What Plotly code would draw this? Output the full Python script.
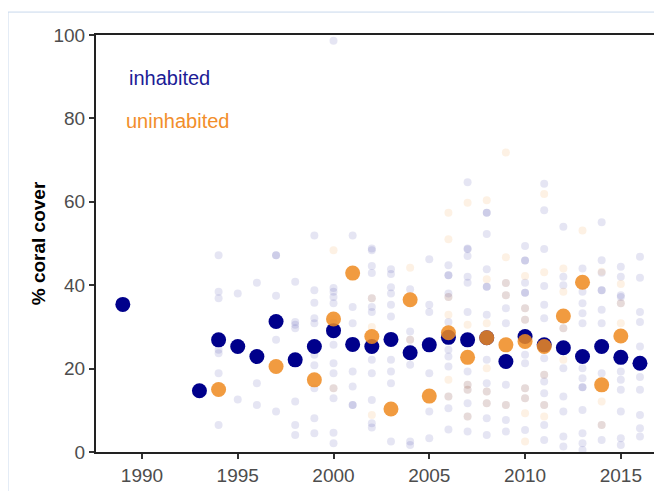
import plotly.graph_objects as go

# Yearly means
inh_years = [1989, 1993, 1994, 1995, 1996, 1997, 1998, 1999, 2000, 2001, 2002, 2003, 2004, 2005,
             2006, 2007, 2008, 2009, 2010, 2011, 2012, 2013, 2014, 2015, 2016]
inh_means = [35.4, 14.7, 26.9, 25.3, 22.9, 31.3, 22.1, 25.3, 29.1, 25.8, 25.3, 27.0, 23.8, 25.7,
             27.5, 26.9, 27.4, 21.7, 27.7, 25.7, 25.0, 22.9, 25.3, 22.7, 21.3]

uni_years = [1994, 1997, 1999, 2000, 2001, 2002, 2003, 2004, 2005, 2006, 2007, 2008, 2009, 2010,
             2011, 2012, 2013, 2014, 2015]
uni_means = [15.0, 20.5, 17.3, 31.9, 42.9, 27.7, 10.3, 36.5, 13.4, 28.6, 22.7, 27.4, 25.7, 26.5,
             25.3, 32.6, 40.7, 16.1, 27.8]

# Individual sites (year, % cover)
inh_sites = [
    (1994, 47.2), (1994, 38.4), (1994, 36.9), (1994, 24.5), (1994, 23.7), (1994, 18.9), (1994, 6.5), (1994, 26.9),
    (1995, 38.0), (1995, 12.6), (1995, 25.3),
    (1996, 40.6), (1996, 16.5), (1996, 11.3), (1996, 22.9),
    (1997, 47.2), (1997, 47.2), (1997, 37.5), (1997, 26.9), (1997, 9.7), (1997, 31.3),
    (1998, 40.8), (1998, 31.2), (1998, 30.5), (1998, 29.7), (1998, 12.1), (1998, 6.5), (1998, 4.1), (1998, 22.1),
    (1999, 51.9), (1999, 38.8), (1999, 35.8), (1999, 32.1), (1999, 30.9), (1999, 23.3), (1999, 20.8),
    (1999, 15.3), (1999, 8.1), (1999, 4.5), (1999, 25.3),
    (2000, 98.6), (2000, 39.3), (2000, 38.4), (2000, 37.2), (2000, 35.7), (2000, 31.0), (2000, 25.7),
    (2000, 21.3), (2000, 18.9), (2000, 15.3), (2000, 12.9), (2000, 4.6), (2000, 2.1), (2000, 29.1),
    (2001, 51.9), (2001, 34.8), (2001, 30.9), (2001, 19.3), (2001, 15.7), (2001, 11.3), (2001, 11.3), (2001, 25.8),
    (2002, 48.8), (2002, 48.4), (2002, 44.6), (2002, 42.9), (2002, 36.9), (2002, 34.8), (2002, 33.6),
    (2002, 22.1), (2002, 18.9), (2002, 12.5), (2002, 6.9), (2002, 5.9), (2002, 25.3),
    (2003, 43.8), (2003, 42.7), (2003, 39.5), (2003, 38.0), (2003, 35.3), (2003, 32.5), (2003, 22.1),
    (2003, 19.3), (2003, 16.5), (2003, 2.5), (2003, 27.0),
    (2004, 39.0), (2004, 28.9), (2004, 26.9), (2004, 24.9), (2004, 20.9), (2004, 2.5), (2004, 1.7), (2004, 23.8),
    (2005, 46.2), (2005, 35.3), (2005, 33.6), (2005, 18.9), (2005, 9.7), (2005, 3.3), (2005, 25.7),
    (2006, 44.8), (2006, 42.4), (2006, 42.4), (2006, 38.0), (2006, 37.2), (2006, 31.2), (2006, 24.5),
    (2006, 22.9), (2006, 20.5), (2006, 13.3), (2006, 10.5), (2006, 5.4), (2006, 27.5),
    (2007, 64.7), (2007, 48.8), (2007, 48.6), (2007, 47.0), (2007, 42.0), (2007, 40.6), (2007, 33.6),
    (2007, 19.3), (2007, 16.1), (2007, 14.9), (2007, 11.7), (2007, 8.5), (2007, 4.9), (2007, 26.9),
    (2008, 57.4), (2008, 57.4), (2008, 52.3), (2008, 43.8), (2008, 39.6), (2008, 39.6), (2008, 32.9),
    (2008, 22.1), (2008, 16.5), (2008, 14.5), (2008, 11.7), (2008, 8.1), (2008, 4.1), (2008, 27.4),
    (2009, 40.5), (2009, 37.6), (2009, 34.5), (2009, 30.9), (2009, 16.1), (2009, 11.3), (2009, 7.7),
    (2009, 4.9), (2009, 21.7),
    (2010, 49.4), (2010, 45.9), (2010, 45.9), (2010, 40.6), (2010, 38.2), (2010, 38.2), (2010, 34.5),
    (2010, 31.7), (2010, 23.3), (2010, 21.3), (2010, 15.3), (2010, 12.9), (2010, 5.3), (2010, 27.7),
    (2011, 64.3), (2011, 58.0), (2011, 48.7), (2011, 39.8), (2011, 35.3), (2011, 32.1), (2011, 22.5),
    (2011, 18.5), (2011, 16.9), (2011, 14.1), (2011, 11.3), (2011, 6.5), (2011, 2.9), (2011, 25.7),
    (2012, 54.0), (2012, 42.0), (2012, 40.0), (2012, 29.7), (2012, 20.1), (2012, 13.3), (2012, 9.7),
    (2012, 3.7), (2012, 1.3), (2012, 25.0),
    (2013, 44.0), (2013, 38.4), (2013, 35.7), (2013, 33.3), (2013, 30.9), (2013, 20.1), (2013, 17.7),
    (2013, 15.5), (2013, 15.5), (2013, 10.1), (2013, 4.5), (2013, 2.1), (2013, 0.5), (2013, 22.9),
    (2014, 55.1), (2014, 46.0), (2014, 43.0), (2014, 38.8), (2014, 38.8), (2014, 34.1), (2014, 30.9),
    (2014, 18.9), (2014, 6.5), (2014, 2.9), (2014, 25.3),
    (2015, 44.4), (2015, 42.0), (2015, 37.6), (2015, 37.2), (2015, 35.7), (2015, 19.3), (2015, 17.3),
    (2015, 14.9), (2015, 9.7), (2015, 3.3), (2015, 1.7), (2015, 22.7),
    (2016, 46.8), (2016, 41.8), (2016, 33.6), (2016, 31.2), (2016, 25.3), (2016, 18.0), (2016, 14.9),
    (2016, 8.9), (2016, 5.7), (2016, 3.7), (2016, 21.3),
]

uni_sites = [
    (2000, 48.4), (2000, 15.3), (2000, 31.9),
    (2002, 30.0), (2002, 8.9), (2002, 36.9),
    (2004, 44.2), (2004, 26.9),
    (2006, 57.4), (2006, 51.0), (2006, 37.2), (2006, 32.9), (2006, 17.3), (2006, 13.3),
    (2007, 59.8), (2007, 30.5), (2007, 16.1), (2007, 14.9), (2007, 8.5),
    (2008, 60.4), (2008, 41.4), (2008, 30.9), (2008, 20.1), (2008, 14.5), (2008, 11.7),
    (2009, 71.8), (2009, 46.7), (2009, 40.5), (2009, 37.6), (2009, 11.3),
    (2010, 42.2), (2010, 34.5), (2010, 31.7), (2010, 15.3), (2010, 12.9), (2010, 9.3), (2010, 2.5),
    (2011, 61.9), (2011, 43.1), (2011, 18.5), (2011, 11.3), (2011, 8.5),
    (2012, 44.0), (2012, 38.4), (2012, 29.7), (2012, 22.1),
    (2013, 53.1),
    (2014, 43.2), (2014, 12.1), (2014, 6.5),
    (2015, 40.3), (2015, 35.7), (2015, 30.9),
]

x_ticks = [1990, 1995, 2000, 2005, 2010, 2015]
y_ticks = [0, 20, 40, 60, 80, 100]

NAVY = "#00008B"
ORANGE = "#EE8A1E"

fig = go.Figure()
fig.add_trace(go.Scatter(
    x=[s[0] for s in inh_sites], y=[s[1] for s in inh_sites], mode="markers",
    marker=dict(size=8, color=NAVY, opacity=0.1, line=dict(width=0)), hoverinfo="skip", showlegend=False))
fig.add_trace(go.Scatter(
    x=[s[0] for s in uni_sites], y=[s[1] for s in uni_sites], mode="markers",
    marker=dict(size=8, color=ORANGE, opacity=0.12, line=dict(width=0)), hoverinfo="skip", showlegend=False))
fig.add_trace(go.Scatter(
    x=inh_years, y=inh_means, mode="markers", name="inhabited",
    marker=dict(size=15, color=NAVY, line=dict(width=0)), showlegend=False))
fig.add_trace(go.Scatter(
    x=uni_years, y=uni_means, mode="markers", name="uninhabited",
    marker=dict(size=15, color=ORANGE, opacity=0.85, line=dict(width=0)), showlegend=False))

font_family = "Liberation Sans, Arial, sans-serif"

# page body has an 8px margin, so the figure is sized/placed to compensate
fig.update_layout(
    width=654, height=483,
    margin=dict(l=88, r=0, t=27, b=39, autoexpand=False),
    paper_bgcolor="white", plot_bgcolor="white",
    font=dict(family=font_family),
    xaxis=dict(
        range=[1987.6, 2017.15], tickvals=x_ticks, ticktext=[str(v) for v in x_ticks],
        showgrid=False, zeroline=False, showline=True, linecolor="#222", linewidth=2, mirror=True,
        ticks="outside", ticklen=5, tickwidth=1.5, tickcolor="#333",
        tickfont=dict(size=19, color="#4d4d4d"),
    ),
    yaxis=dict(
        range=[0, 100], tickvals=y_ticks, ticktext=[str(v) for v in y_ticks],
        showgrid=False, zeroline=False, showline=True, linecolor="#222", linewidth=2,
        ticks="outside", ticklen=5, tickwidth=1.5, tickcolor="#333",
        tickfont=dict(size=19, color="#4d4d4d"),
        title=dict(text="% coral cover", font=dict(size=19, color="black", family=font_family),
                   standoff=3),
    ),
    annotations=[
        dict(x=1989.2, y=89.7, xref="x", yref="y", text="inhabited", showarrow=False, xanchor="left",
             yanchor="middle", font=dict(size=20, color="#1c1c96", family=font_family)),
        dict(x=1989.05, y=79.4, xref="x", yref="y", text="uninhabited", showarrow=False, xanchor="left",
             yanchor="middle", font=dict(size=20, color="#F28E2B", family=font_family)),
    ],
    shapes=[
        dict(type="line", xref="paper", yref="paper", x0=-0.1555, x1=1.1, y0=1.055, y1=1.055,
             line=dict(color="#c8d8ec", width=1)),
        dict(type="line", xref="paper", yref="paper", x0=-0.1555, x1=-0.1555, y0=1.055, y1=-0.2,
             line=dict(color="#c8d8ec", width=1)),
    ],
)
fig.update_yaxes(title_font_weight="bold")

fig.write_html("out.html")
